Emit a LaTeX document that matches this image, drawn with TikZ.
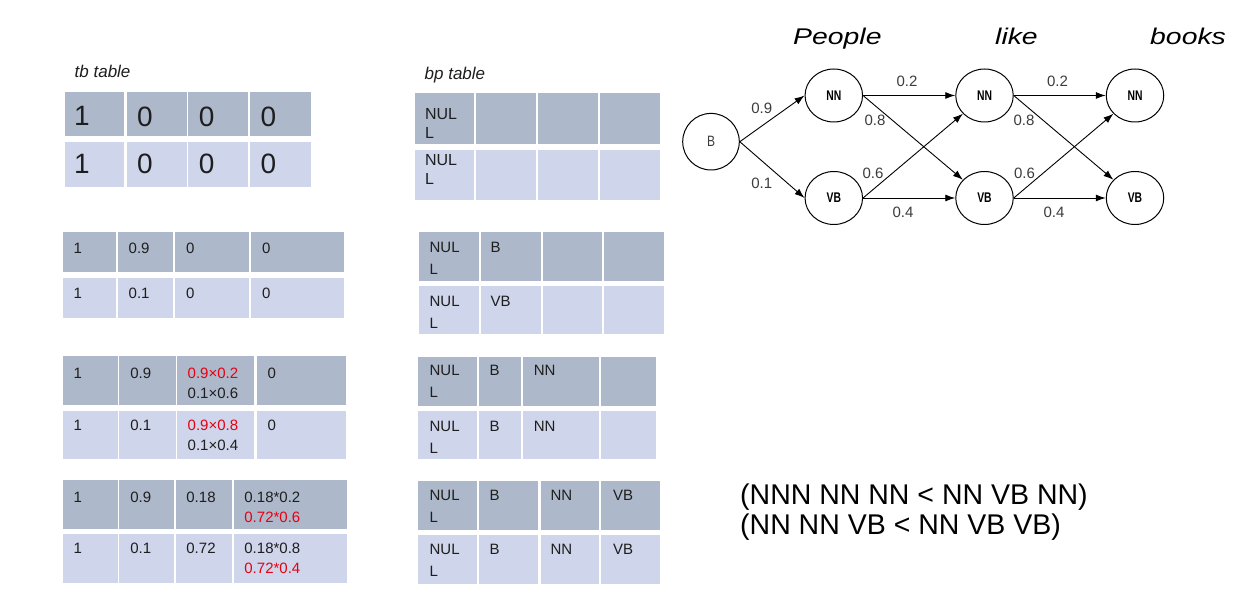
\documentclass[tikz,border=0pt]{standalone}
\usepackage{fontspec}
\setmainfont{Liberation Sans}
\usepackage{graphicx}
\usetikzlibrary{arrows.meta,shapes.geometric}
\definecolor{rowdark}{RGB}{173,185,202}
\definecolor{rowlight}{RGB}{207,213,234}
\definecolor{tred}{RGB}{230,0,18}
\definecolor{ttxt}{RGB}{30,30,30}
\definecolor{lbl}{RGB}{60,60,60}
\tikzset{
 ct/.style={anchor=north west, inner sep=0pt, outer sep=0pt, text=ttxt, font=\fontsize{15}{20}\selectfont, align=left},
 nulc/.style={ct, font=\fontsize{15}{22}\selectfont},
 bt/.style={ct, font=\fontsize{28}{28}\selectfont},
 hd/.style={anchor=base west, inner sep=0pt, font=\fontsize{17}{17}\selectfont\itshape, text=ttxt},
 st/.style={draw=black, line width=1pt, ellipse, minimum width=57.5pt, minimum height=53pt, inner sep=0pt, font=\fontsize{14}{14}\selectfont\bfseries},
 bn/.style={draw=black, line width=1pt, circle, minimum size=56.6pt, inner sep=0pt, font=\fontsize{15}{15}\selectfont, text=lbl},
 el/.style={inner sep=0pt, font=\fontsize{15}{15}\selectfont, text=lbl},
 ar/.style={line width=0.9pt, -{Latex[length=10pt,width=7pt]}},
 wd/.style={anchor=base west, inner sep=0pt, font=\fontsize{22.7}{22.7}\selectfont\itshape},
 nt/.style={anchor=base west, inner sep=0pt, font=\fontsize{28.5}{28.5}\selectfont, text=black},
}
\begin{document}
\begin{tikzpicture}[x=1pt,y=-1pt]
\fill[white] (0,0) rectangle (1245,601);
\path[use as bounding box] (0,0) rectangle (1245,601);

% ---------- tb table ----------
\node[hd] (tbh) at (74.5,78) {tb table};
\foreach \a/\b in {65/124.3,126.7/186.7,188.3/248.3,250/310.7}{
  \fill[rowdark] (\a,91.7) rectangle (\b,136);
  \fill[rowlight] (\a,142.3) rectangle (\b,186.7);
}
\node[bt] (t1a1) at (74,106.7) {1};
\node[bt] (t1a2) at (137,106.7) {0};
\node[bt] (t1a3) at (198.8,106.7) {0};
\node[bt] (t1a4) at (260.5,106.7) {0};
\node[bt] (t1b1) at (74,154.3) {1};
\node[bt] (t1b2) at (137,154.3) {0};
\node[bt] (t1b3) at (198.8,154.3) {0};
\node[bt] (t1b4) at (260.5,154.3) {0};

% ---------- bp table ----------
\node[hd] (bph) at (424.5,80) {bp table};
\foreach \a/\b in {415/474,476/536,538.3/598.3,600/660}{
  \fill[rowdark] (\a,93.3) rectangle (\b,144.3);
  \fill[rowlight] (\a,150) rectangle (\b,200);
}
\node[ct, font=\fontsize{16}{19}\selectfont] (b1a1) at (425,108) {NUL\\L};
\node[ct, font=\fontsize{16}{19}\selectfont] (b1b1) at (425,154.5) {NUL\\L};

% ---------- table 2 ----------
\foreach \a/\b in {62.7/115.7,117.7/172.7,175/249,251/344}{
  \fill[rowdark] (\a,232.3) rectangle (\b,271.7);
  \fill[rowlight] (\a,277.7) rectangle (\b,317.7);
}
\node[ct] (t2a1) at (73.7,243.3) {1};
\node[ct] (t2a2) at (128.7,243.3) {0.9};
\node[ct] (t2a3) at (186,243.3) {0};
\node[ct] (t2a4) at (262,243.3) {0};
\node[ct] (t2b1) at (73.7,288) {1};
\node[ct] (t2b2) at (128.7,288) {0.1};
\node[ct] (t2b3) at (186,288) {0};
\node[ct] (t2b4) at (262,288) {0};

\foreach \a/\b in {419.3/479,481/540.7,542.7/602.3,604.3/664.3}{
  \fill[rowdark] (\a,232.3) rectangle (\b,281);
  \fill[rowlight] (\a,286) rectangle (\b,334.3);
}
\node[nulc] (b2a1) at (429.6,241.7) {NUL\\L};
\node[nulc] (b2a2) at (490.6,241.7) {B};
\node[nulc] (b2b1) at (429.6,296) {NUL\\L};
\node[nulc] (b2b2) at (490.6,296) {VB};

% ---------- table 3 ----------
\foreach \a/\b in {62.7/117.7,119.3/175.7,177.3/254.3,256.7/346}{
  \fill[rowdark] (\a,356) rectangle (\b,405);
  \fill[rowlight] (\a,411) rectangle (\b,459.3);
}
\node[ct] (t3a1) at (73.7,368.3) {1};
\node[ct] (t3a2) at (130.3,368.3) {0.9};
\node[ct] (t3a3) at (187.7,368.3) {\textcolor{tred}{0.9×0.2}\\0.1×0.6};
\node[ct] (t3a4) at (267.7,368.3) {0};
\node[ct] (t3b1) at (73.7,420) {1};
\node[ct] (t3b2) at (130.3,420) {0.1};
\node[ct] (t3b3) at (187.7,420) {\textcolor{tred}{0.9×0.8}\\0.1×0.4};
\node[ct] (t3b4) at (267.7,420) {0};

\foreach \a/\b in {418.3/477.3,479.3/520.7,522.7/599,601/656}{
  \fill[rowdark] (\a,356.7) rectangle (\b,406);
  \fill[rowlight] (\a,411) rectangle (\b,459.3);
}
\node[nulc] (b3a1) at (429.6,365) {NUL\\L};
\node[nulc] (b3a2) at (489.6,365) {B};
\node[nulc] (b3a3) at (533.9,365) {NN};
\node[nulc] (b3b1) at (429.6,421) {NUL\\L};
\node[nulc] (b3b2) at (489.6,421) {B};
\node[nulc] (b3b3) at (533.9,421) {NN};

% ---------- table 4 ----------
\foreach \a/\b in {62.7/117.7,119.3/174.3,176/231.7,234/346.7}{
  \fill[rowdark] (\a,480) rectangle (\b,529);
  \fill[rowlight] (\a,534.3) rectangle (\b,583.3);
}
\node[ct] (t4a1) at (73.7,491.7) {1};
\node[ct] (t4a2) at (130.3,491.7) {0.9};
\node[ct] (t4a3) at (186.4,491.7) {0.18};
\node[ct] (t4a4) at (244.4,491.7) {0.18*0.2\\\textcolor{tred}{0.72*0.6}};
\node[ct] (t4b1) at (73.7,543.3) {1};
\node[ct] (t4b2) at (130.3,543.3) {0.1};
\node[ct] (t4b3) at (186.4,543.3) {0.72};
\node[ct] (t4b4) at (244.4,543.3) {0.18*0.8\\\textcolor{tred}{0.72*0.4}};

\foreach \a/\b in {418.3/477.3,479.3/538.3,540.7/599,601/660}{
  \fill[rowdark] (\a,480.7) rectangle (\b,530);
  \fill[rowlight] (\a,535) rectangle (\b,584);
}
\node[nulc] (b4a1) at (429.6,490) {NUL\\L};
\node[nulc] (b4a2) at (489.6,490) {B};
\node[nulc] (b4a3) at (550.6,490) {NN};
\node[nulc] (b4a4) at (613,490) {VB};
\node[nulc] (b4b1) at (429.6,544.5) {NUL\\L};
\node[nulc] (b4b2) at (489.6,544.5) {B};
\node[nulc] (b4b3) at (550.6,544.5) {NN};
\node[nulc] (b4b4) at (613,544.5) {VB};

% ---------- graph ----------
\node[wd] (w1) at (793,44.5) {\scalebox{1.25}[1]{People}};
\node[wd] (w2) at (995,44.5) {\scalebox{1.25}[1]{like}};
\node[wd] (w3) at (1150,44.5) {\scalebox{1.25}[1]{books}};

\node[bn] (B) at (711,141.7) {\scalebox{0.8}[1]{B}};
\node[st] (NN1) at (833.8,95.5) {\scalebox{0.74}[1]{NN}};
\node[st] (VB1) at (833.8,198) {\scalebox{0.74}[1]{VB}};
\node[st] (NN2) at (984.5,95.5) {\scalebox{0.74}[1]{NN}};
\node[st] (VB2) at (984.5,198) {\scalebox{0.74}[1]{VB}};
\node[st] (NN3) at (1135,95.5) {\scalebox{0.74}[1]{NN}};
\node[st] (VB3) at (1135,198) {\scalebox{0.74}[1]{VB}};

\draw[ar] (B.east) -- (NN1.west);
\draw[ar] (B.east) -- (VB1.west);
\draw[ar] (NN1.east) -- (NN2.west);
\draw[ar] (NN1.east) -- (VB2);
\draw[ar] (VB1.east) -- (NN2);
\draw[ar] (VB1.east) -- (VB2.west);
\draw[ar] (NN2.east) -- (NN3.west);
\draw[ar] (NN2.east) -- (VB3);
\draw[ar] (VB2.east) -- (NN3);
\draw[ar] (VB2.east) -- (VB3.west);

\node[el] (l1) at (761.7,108) {0.9};
\node[el] (l2) at (761.7,183.3) {0.1};
\node[el] (l3) at (907,81.7) {0.2};
\node[el] (l4) at (875,120.3) {0.8};
\node[el] (l5) at (873,173.8) {0.6};
\node[el] (l6) at (903,212) {0.4};
\node[el] (l7) at (1057.5,81.7) {0.2};
\node[el] (l8) at (1024,120.3) {0.8};
\node[el] (l9) at (1024.5,173.8) {0.6};
\node[el] (l10) at (1054,212) {0.4};

% ---------- comparison text ----------
\node[nt] (c1) at (740,504) {(NNN NN NN < NN VB NN)};
\node[nt] (c2) at (740,534) {(NN NN VB < NN VB VB)};
\end{tikzpicture}
\end{document}
